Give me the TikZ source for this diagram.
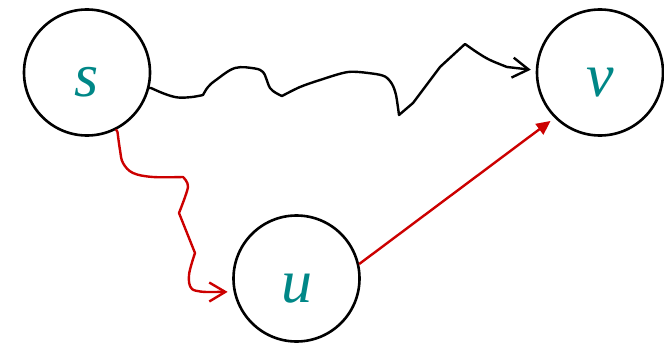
\documentclass[tikz,border=0pt]{standalone}
\usepackage{fontspec}
\setmainfont{Liberation Serif}
\usetikzlibrary{arrows.meta}
\definecolor{lbl}{RGB}{0,135,135}
\definecolor{redc}{RGB}{204,0,0}
\tikzset{
  vtx/.style={circle,draw=black,line width=2.6pt,minimum size=126pt,inner sep=0pt,
    text=lbl,font=\fontsize{62}{70}\selectfont\itshape,text height=48pt,text depth=0pt},
  blkpath/.style={draw=black,line width=2.4pt,line join=round,line cap=round,
    -{Straight Barb[length=16pt,width=20pt,line width=2.4pt]},shorten >=5pt},
  redpath/.style={draw=redc,line width=2.4pt,line join=round,line cap=round,
    -{Straight Barb[length=16pt,width=19pt,line width=2.4pt]},shorten >=6pt},
  redline/.style={draw=redc,line width=2.4pt,
    -{Triangle[length=14pt,width=13pt]},shorten >=5pt}
}
\begin{document}
\begin{tikzpicture}[x=1pt,y=-1pt]
\useasboundingbox (0,0) rectangle (664,345);
\node[vtx] (s) at (87,72.5) {s};
\node[vtx] (v) at (600,72.5) {v};
\node[vtx] (u) at (296.5,278.5) {u};
% black wavy path s -> v
\draw[blkpath] (s.-14)
  -- plot[smooth,tension=0.6] coordinates {(151,88) (165,94) (178,97.5) (192,97) (203,95)}
  -- plot[smooth,tension=0.6] coordinates {(203,95) (208,87) (216,80) (235,68) (255,68.5) (263,72) (266,78) (270,88) (276,93) (282,96)}
  -- plot[smooth,tension=0.5] coordinates {(282,96) (300,87) (320,80) (348,72) (372,73.5) (385,76.5) (392,84) (396,95) (399,115)}
  -- (413,103) -- (440,67) -- (465,44)
  -- plot[smooth,tension=0.6] coordinates {(465,44) (478,53) (490,60) (507,67)}
  -- (v.178);
% red wavy path s -> u
\draw[redpath] (s.-63)
  -- plot[smooth,tension=0.6] coordinates {(117.5,132) (120,150) (123,163) (133,173) (153,177) (183,177)}
  -- plot[smooth,tension=0.5] coordinates {(183,177) (188,187) (179,213)}
  -- (195,253)
  -- plot[smooth,tension=0.6] coordinates {(195,253) (189,275) (192,289) (207,292)}
  -- (u.-168);
% red straight arrow u -> v
\draw[redline] (u.13) -- (v.225);
\end{tikzpicture}
\end{document}
